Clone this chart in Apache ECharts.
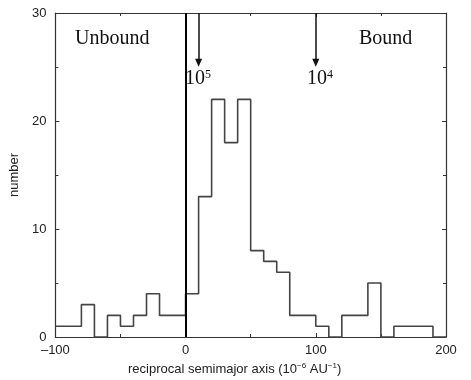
<!DOCTYPE html>
<html>
<head>
<meta charset="utf-8">
<script src="https://cdn.jsdelivr.net/npm/echarts@6/dist/echarts.min.js"></script>
<style>
  html, body { margin: 0; padding: 0; background: #fff; }
  #chart { width: 471px; height: 380px; }
</style>
</head>
<body>
<div id="chart"></div>
<script>
// histogram bins, width 10 (1e-6 AU^-1), starting at -100
const binStart = -100
const binWidth = 10
const counts = [
  1, 1, 3, 0, 2, 1, 2, 4, 2, 2,
  4, 13, 22, 18, 22, 8, 7, 6, 2, 2,
  1, 0, 2, 2, 5, 0, 1, 1, 1, 0
]
const xTicks = [-100, 0, 100, 200]
const yTicks = [0, 10, 20, 30]
// arrows marking semimajor axis 10^5 AU and 10^4 AU
const arrowX = [10, 100]
const arrowLabels = ['5', '4']

const chart = echarts.init(document.getElementById('chart'))

// left edge of each bin + closing edge, drawn as a step line
const stepData = counts.map((c, i) => [binStart + i * binWidth, c])
stepData.push([binStart + counts.length * binWidth, 0])

const axisColor = '#333'
const labelFont = { color: '#222', fontSize: 13, fontFamily: 'Liberation Sans' }

function frameAxis(extra) {
  return {
    type: 'value',
    axisLine: { onZero: false, lineStyle: { color: axisColor, width: 1.2 } },
    axisTick: { inside: true, length: 4, lineStyle: { color: axisColor } },
    minorTick: { show: true, splitNumber: 2, length: 3, lineStyle: { color: axisColor } },
    splitLine: { show: false },
    ...extra
  }
}

const option = {
  animation: false,
  grid: { left: 52.5, right: 25, top: 13, bottom: 43 },
  xAxis: [
    frameAxis({
      min: xTicks[0], max: xTicks[xTicks.length - 1], interval: 100,
      axisLabel: { ...labelFont, margin: 7, formatter: v => String(v).replace('-', '\u2013') }
    }),
    frameAxis({
      position: 'top',
      min: xTicks[0], max: xTicks[xTicks.length - 1], interval: 100,
      axisLabel: { show: false }
    })
  ],
  yAxis: [
    frameAxis({
      min: yTicks[0], max: yTicks[yTicks.length - 1], interval: 10,
      name: 'number',
      nameLocation: 'middle',
      nameGap: 31,
      nameTextStyle: { ...labelFont },
      axisLabel: { ...labelFont, margin: 9 }
    }),
    frameAxis({
      position: 'right',
      min: yTicks[0], max: yTicks[yTicks.length - 1], interval: 10,
      axisLabel: { show: false }
    })
  ],
  series: [{
    type: 'line',
    step: 'end',
    data: stepData,
    symbol: 'none',
    lineStyle: { color: '#444', width: 1.6 },
    markLine: {
      silent: true,
      symbol: 'none',
      label: { show: false },
      data: [
        [{ coord: [0, 0], lineStyle: { color: '#000', width: 2, type: 'solid' } }, { coord: [0, 30] }],
        ...arrowX.map(x => [
          { coord: [x, 30], symbol: 'none', lineStyle: { color: '#111', width: 1.5, type: 'solid' } },
          { coord: [x, 25.4], symbol: 'triangle', symbolSize: [7, 8], symbolRotate: 180 }
        ])
      ]
    }
  }],
  graphic: [
    {
      type: 'text', left: 75, top: 29,
      style: { text: 'Unbound', font: '20px "Liberation Serif"', fill: '#111' }
    },
    {
      type: 'text', left: 359, top: 29,
      style: { text: 'Bound', font: '20px "Liberation Serif"', fill: '#111' }
    },
    ...arrowLabels.map((p, i) => ({
      type: 'text', left: i === 0 ? 185 : 307, top: 69,
      style: {
        text: '10{s|' + p + '}',
        font: '20px "Liberation Serif"',
        fill: '#111',
        rich: { s: { fontSize: 12, fontFamily: 'Liberation Serif', verticalAlign: 'top', padding: [0, 0, 8, 0], fill: '#111' } }
      }
    })),
    {
      type: 'text', left: 128, top: 362,
      style: {
        text: 'reciprocal semimajor axis (10{s|−6} AU{s|−1})',
        font: '13px "Liberation Sans"',
        fill: '#222',
        rich: { s: { fontSize: 8, fontFamily: 'Liberation Sans', padding: [0, 0, 6, 0], fill: '#222' } }
      }
    }
  ]
}

chart.setOption(option)
</script>
</body>
</html>
